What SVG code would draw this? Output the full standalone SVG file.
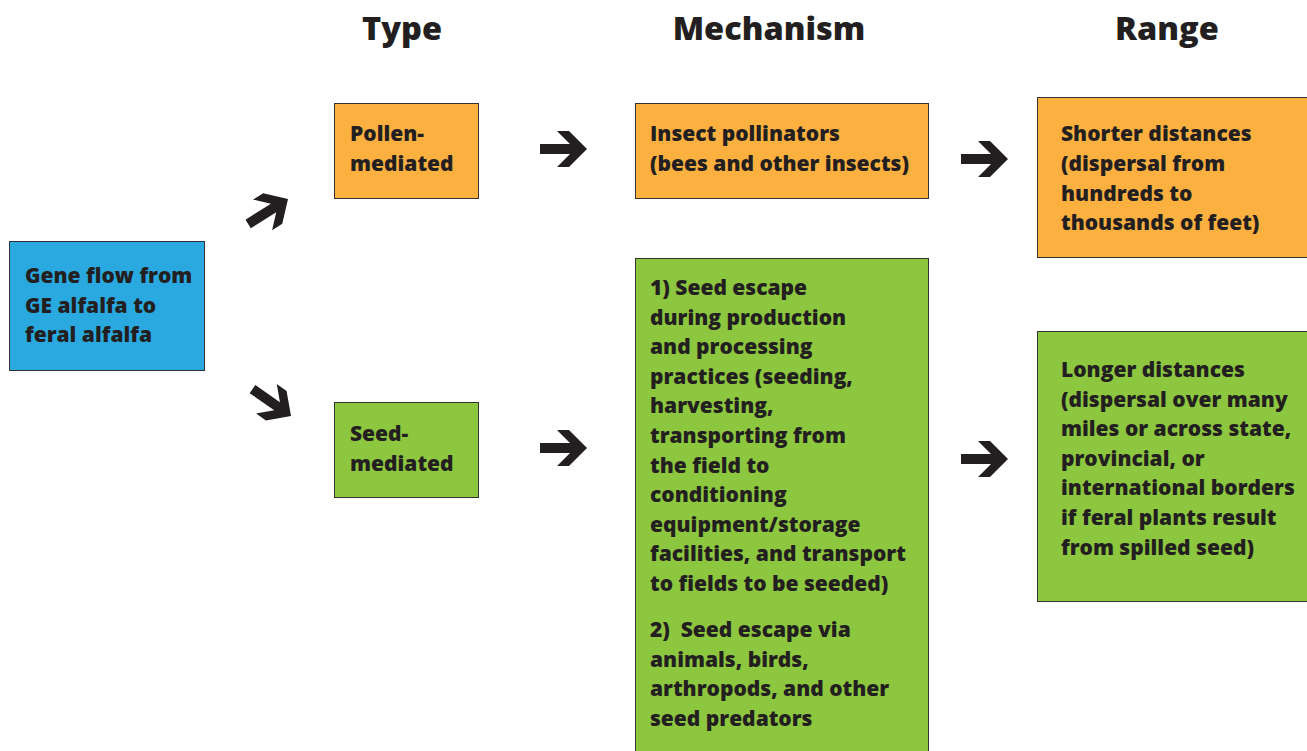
<svg xmlns="http://www.w3.org/2000/svg" width="1307" height="751" viewBox="0 0 1307 751">
<defs>
<style>
.box{stroke:#333;stroke-width:1}
.blue{fill:#29A9E0}
.orange{fill:#FBB040}
.green{fill:#8DC63F}
text{font-family:"Open Sans","Noto Sans",sans-serif;font-weight:800;fill:#231F20}
.t{font-size:21px}
.h{font-size:32.5px;text-anchor:middle}
.arr{fill:#231F20}
.pre{white-space:pre}
</style>
<path id="arrow" d="M-47,-5 L-17,-5 L-30,-18 L-18,-18 L0,0 L-18,18 L-30,18 L-17,5 L-47,5 Z"/>
</defs>
<rect width="1307" height="751" fill="#fff"/>
<g id="headers">
<text class="h" x="402" y="40">Type</text>
<text class="h" x="769" y="40">Mechanism</text>
<text class="h" x="1167" y="40">Range</text>
</g>
<g id="gene-flow">
<rect class="box blue" x="9.5" y="241.5" width="195" height="129"/>
<text class="t" x="25"><tspan x="25" y="283">Gene flow from</tspan><tspan x="25" y="313">GE alfalfa to</tspan><tspan x="25" y="342">feral alfalfa</tspan></text>
</g>
<g id="pollen-mediated">
<rect class="box orange" x="334.5" y="103.5" width="144" height="95"/>
<text class="t"><tspan x="350" y="141">Pollen-</tspan><tspan x="350" y="171">mediated</tspan></text>
</g>
<g id="seed-mediated">
<rect class="box green" x="334.5" y="402.5" width="144" height="95"/>
<text class="t"><tspan x="350" y="441">Seed-</tspan><tspan x="350" y="471">mediated</tspan></text>
</g>
<g id="insect-pollinators">
<rect class="box orange" x="635.5" y="103.5" width="293" height="95"/>
<text class="t"><tspan x="650" y="141">Insect pollinators</tspan><tspan x="650" y="171">(bees and other insects)</tspan></text>
</g>
<g id="seed-escape">
<rect class="box green" x="635.5" y="258.5" width="293" height="500"/>
<text class="t"><tspan x="650" y="295">1) Seed escape</tspan><tspan x="650" y="324.6">during production</tspan><tspan x="650" y="354.2">and processing</tspan><tspan x="650" y="383.8">practices (seeding,</tspan><tspan x="650" y="413.4">harvesting,</tspan><tspan x="650" y="443">transporting from</tspan><tspan x="650" y="472.6">the field to</tspan><tspan x="650" y="502.2">conditioning</tspan><tspan x="650" y="531.8">equipment/storage</tspan><tspan x="650" y="561.4">facilities, and transport</tspan><tspan x="650" y="591">to fields to be seeded)</tspan><tspan class="pre" x="650" y="637">2)  Seed escape via</tspan><tspan x="650" y="666.6">animals, birds,</tspan><tspan x="650" y="696.2">arthropods, and other</tspan><tspan x="650" y="725.8">seed predators</tspan></text>
</g>
<g id="shorter-distances">
<rect class="box orange" x="1037.5" y="97.5" width="280" height="160"/>
<text class="t"><tspan x="1061" y="141">Shorter distances</tspan><tspan x="1061" y="171">(dispersal from</tspan><tspan x="1061" y="200.5">hundreds to</tspan><tspan x="1061" y="230">thousands of feet)</tspan></text>
</g>
<g id="longer-distances">
<rect class="box green" x="1037.5" y="331.5" width="280" height="270"/>
<text class="t"><tspan x="1061" y="377">Longer distances</tspan><tspan x="1061" y="406.6">(dispersal over many</tspan><tspan x="1061" y="436.2">miles or across state,</tspan><tspan x="1061" y="465.8">provincial, or</tspan><tspan x="1061" y="495.4">international borders</tspan><tspan x="1061" y="525">if feral plants result</tspan><tspan x="1061" y="554.6">from spilled seed)</tspan></text>
</g>
<g id="connectors" class="arr">
<use href="#arrow" transform="translate(288,199) rotate(-32)"/>
<use href="#arrow" transform="translate(291,416) rotate(35)"/>
<use href="#arrow" transform="translate(587,149)"/>
<use href="#arrow" transform="translate(587,448)"/>
<use href="#arrow" transform="translate(1008,159)"/>
<use href="#arrow" transform="translate(1008,459)"/>
</g>
</svg>
